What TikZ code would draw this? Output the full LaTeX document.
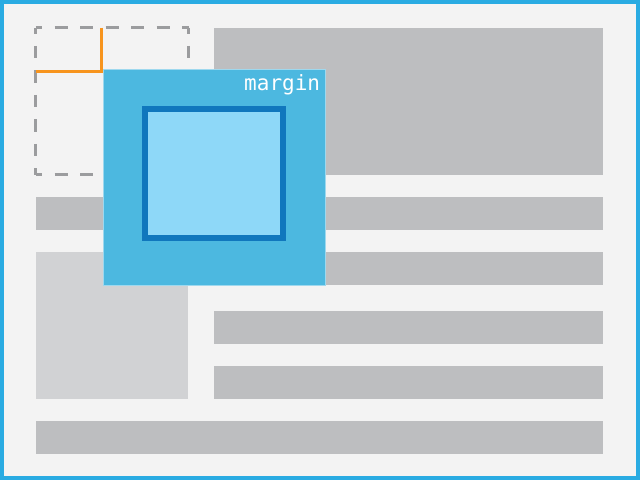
\documentclass[tikz,border=0pt]{standalone}
\usepackage{fontspec}
\newfontfamily\labelmono{DejaVu Sans Mono}
\definecolor{bgc}{HTML}{F3F3F3}
\definecolor{framec}{HTML}{29ABE2}
\definecolor{darkgray}{HTML}{BDBEC0}
\definecolor{lightgrayc}{HTML}{D1D2D4}
\definecolor{dashc}{HTML}{9B9C9E}
\definecolor{orangec}{HTML}{F7941D}
\definecolor{marginc}{HTML}{4CB8E0}
\definecolor{marginedge}{HTML}{9ED8EE}
\definecolor{innerfill}{HTML}{8ED8F8}
\definecolor{innerdraw}{HTML}{1077BD}
\tikzset{
  bar/.style={fill=darkgray, draw=none},
  panel/.style={fill=lightgrayc, draw=none},
  dashhoriz/.style={draw=dashc, line width=3pt, dash pattern=on 13pt off 12.5pt, dash phase=6.5pt},
  dashvert/.style={draw=dashc, line width=3pt, dash pattern=on 12.5pt off 12pt, dash phase=6.25pt},
  marginline/.style={draw=orangec, line width=3pt},
  marginbox/.style={fill=marginc, draw=marginedge, line width=0.8pt, outer sep=0pt, inner sep=0pt},
  contentbox/.style={fill=innerfill, draw=innerdraw, line width=6pt, outer sep=0pt, inner sep=0pt},
  marginlabel/.style={text=white, font=\labelmono\fontsize{21}{24}\selectfont, inner sep=0pt, anchor=base east}
}
\begin{document}
\begin{tikzpicture}[x=1pt,y=-1pt]
\useasboundingbox (0,0) rectangle (640,480);
% page
\fill[bgc] (0,0) rectangle (640,480);
\draw[framec, line width=4pt] (2,2) rectangle (638,478);
% page content
\fill[bar] (214,27.5) rectangle (603,174.5);
\fill[bar] (36,196.5) rectangle (603,230);
\fill[bar] (214,251.5) rectangle (603,285);
\fill[panel] (36,251.5) rectangle (188,399);
\fill[bar] (214,311) rectangle (603,344);
\fill[bar] (214,366) rectangle (603,399);
\fill[bar] (36,420.5) rectangle (603,454);
% dashed original position
\draw[dashhoriz] (35.5,27.5) -- (188.5,27.5);
\draw[dashhoriz] (35.5,174) -- (188.5,174);
\draw[dashvert] (35.5,27.5) -- (35.5,174.5);
\draw[dashvert] (188.5,27.5) -- (188.5,174.5);
% margin offset (orange)
\coordinate (ot) at (101.5,27.5);
\coordinate (oc) at (101.5,71.5);
\coordinate (ol) at (35.5,71.5);
\draw[marginline, line join=miter] (ot) -- (oc) -- (ol);
% margin box
\node[marginbox, minimum width=222pt, minimum height=215.5pt, anchor=north west] (mbox) at (103,69.5) {};
\node[contentbox, minimum width=138pt, minimum height=129pt, anchor=north west] (cbox) at (145,109) {};
\node[marginlabel] (mlabel) at (320.3,90.5) {margin};
\end{tikzpicture}
\end{document}
